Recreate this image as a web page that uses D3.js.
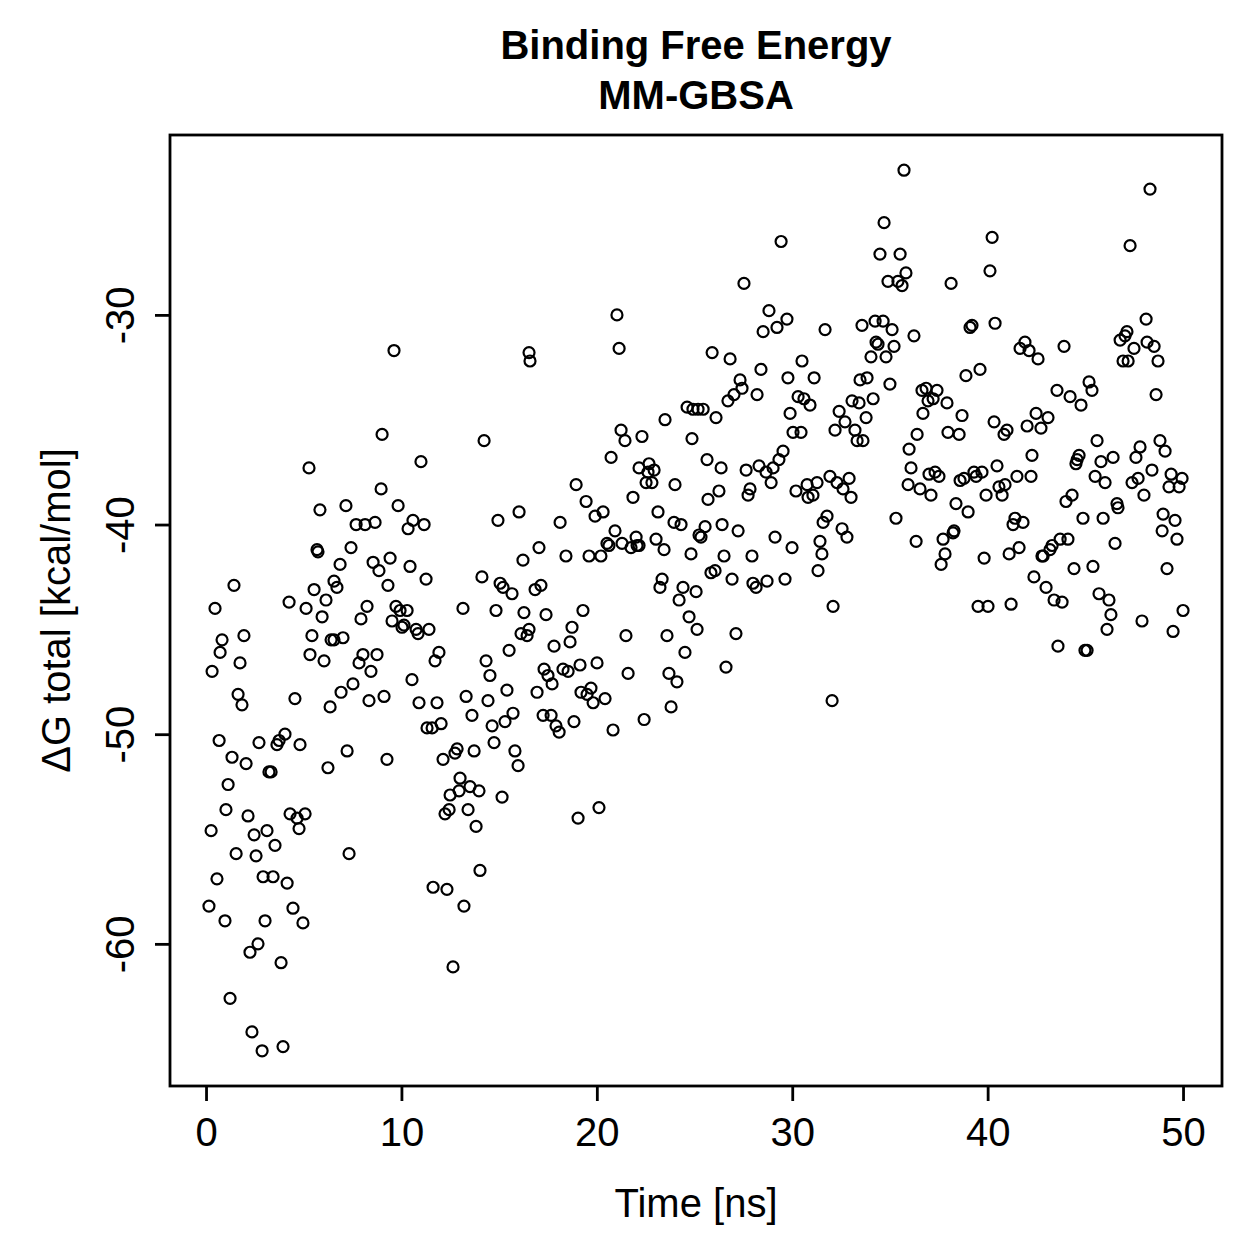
<!DOCTYPE html>
<html>
<head>
<meta charset="utf-8">
<script src="https://cdn.jsdelivr.net/npm/d3@7"></script>
<style>
  html, body { margin: 0; padding: 0; background: #fff; }
  svg text { font-family: "Liberation Sans", Arial, Helvetica, sans-serif; fill: #000; }
</style>
</head>
<body>
<div id="chart"></div>
<script>
// Binding free energy (MM-GBSA) over simulation time — scatter, R base-graphics look.

const TITLE = ["Binding Free Energy", "MM-GBSA"];
const X_LABEL = "Time [ns]";
const Y_LABEL = "\u0394G total [kcal/mol]";
const X_TICKS = [0, 10, 20, 30, 40, 50];
const Y_TICKS = [-30, -40, -50, -60];

// time (ns) of each snapshot
const times = [
  0.15,0.26,0.31,0.46,0.56,0.67,0.72,0.82,0.97,1.02,1.13,1.23,1.33,1.43,1.54,1.64,1.74,1.84,1.94,2.05,
  2.15,2.25,2.35,2.46,2.56,2.66,2.71,2.87,2.92,3.02,3.12,3.22,3.33,3.43,3.53,3.63,3.74,3.84,3.94,4.04,
  4.15,4.25,4.30,4.45,4.55,4.66,4.76,4.81,4.96,5.07,5.12,5.27,5.32,5.42,5.53,5.68,5.73,5.83,5.94,6.04,
  6.14,6.24,6.35,6.40,6.55,6.55,6.70,6.86,6.91,7.01,7.16,7.22,7.32,7.42,7.52,7.68,
  7.83,7.93,8.03,8.14,8.24,8.34,8.44,8.55,8.65,8.75,8.85,8.96,9.01,9.11,9.26,9.31,9.42,9.52,9.62,9.72,
  9.83,9.93,10.03,10.13,10.29,10.34,10.44,10.54,10.59,10.75,10.85,10.90,11.00,11.16,11.26,11.31,11.41,11.57,11.62,11.72,
  11.82,11.92,12.03,12.13,12.23,12.33,12.44,12.49,12.64,12.74,12.85,12.95,13.00,13.15,13.20,13.31,13.41,13.51,13.61,13.72,
  13.82,13.97,14.02,14.12,14.23,14.33,14.43,14.53,14.64,14.74,14.84,14.94,15.05,15.15,15.20,15.30,15.40,15.51,15.66,15.71,
  15.81,15.97,16.02,16.12,16.22,16.27,16.43,16.53,16.53,16.58,
  16.84,16.94,17.04,17.14,17.25,17.30,17.40,17.50,17.66,17.71,17.81,17.91,18.07,18.12,18.27,18.42,18.53,18.63,18.73,18.83,
  18.94,19.04,19.14,19.19,19.29,19.45,19.50,19.60,19.70,19.81,19.91,20.01,20.11,20.21,20.32,20.42,20.52,20.62,20.73,20.83,
  20.93,21.03,21.14,21.24,21.29,21.44,21.49,21.60,21.75,21.85,22.01,22.06,22.16,22.16,22.31,22.42,22.52,22.62,22.67,22.82,
  22.93,23.03,23.13,23.23,23.34,23.44,23.49,23.59,23.69,23.80,23.95,24.00,24.10,24.21,24.31,24.41,24.51,24.62,24.72,24.82,
  24.87,24.92,25.08,25.13,25.18,25.23,
  25.33,25.44,25.54,25.64,25.69,25.84,25.90,26.05,26.10,26.25,26.36,26.41,26.51,26.61,26.71,26.82,26.92,27.02,27.12,27.23,
  27.33,27.43,27.53,27.64,27.74,27.84,27.94,27.99,28.15,28.20,28.30,28.40,28.51,28.66,28.71,28.81,28.92,29.02,29.12,29.22,
  29.32,29.43,29.53,29.63,29.73,29.78,29.89,29.99,30.04,30.19,30.30,30.45,30.50,30.60,30.76,30.81,30.91,31.06,31.12,31.27,
  31.32,31.42,31.52,31.58,31.68,31.78,31.93,32.04,32.09,32.19,32.29,32.40,32.55,32.60,32.70,32.80,32.91,33.01,33.06,33.21,
  33.32,33.42,33.47,33.57,33.62,33.78,33.83,
  34.03,34.14,34.24,34.29,34.39,34.49,34.65,34.70,34.80,34.90,35.00,35.11,35.21,35.31,35.41,35.52,35.62,35.72,35.82,35.93,
  35.98,36.08,36.23,36.34,36.39,36.54,36.64,36.69,36.85,36.95,37.00,37.10,37.21,37.31,37.41,37.51,37.62,37.72,37.82,37.92,
  37.97,38.13,38.23,38.28,38.38,38.54,38.59,38.69,38.79,38.89,39.00,39.10,39.20,39.30,39.41,39.51,39.61,39.71,39.82,39.92,
  40.02,40.12,40.23,40.33,40.38,40.48,40.58,40.74,40.84,40.89,40.99,41.10,41.20,41.30,41.40,41.50,41.61,41.66,41.81,41.91,
  42.02,42.12,42.22,42.27,42.37,42.48,42.58,
  42.73,42.78,42.84,42.99,43.09,43.19,43.30,43.40,43.55,43.60,43.71,43.81,43.91,44.01,44.11,44.22,44.32,44.42,44.52,44.58,
  44.68,44.78,44.88,44.98,45.09,45.19,45.34,45.39,45.50,45.60,45.70,45.80,45.91,46.01,46.11,46.21,46.31,46.42,46.52,46.62,
  46.67,46.78,46.93,47.03,47.13,47.19,47.29,47.39,47.49,47.59,47.70,47.80,47.90,48.00,48.11,48.16,48.31,48.41,48.52,48.62,
  48.72,48.82,48.93,48.98,49.08,49.18,49.28,49.39,49.49,49.59,49.69,49.80,49.95,50.00
];

// ΔG total (kcal/mol) for the same snapshots
const dG = [
  -58.2,-54.6,-47.0,-44.0,-56.9,-50.3,-46.1,-45.5,-58.9,-53.6,-52.4,-62.6,-51.1,-42.9,-55.7,-48.1,-46.6,-48.6,-45.3,-51.4,
  -53.9,-60.4,-64.2,-54.8,-55.8,-60.0,-50.4,-65.1,-56.8,-58.9,-54.6,-51.8,-51.8,-56.8,-55.3,-50.5,-50.3,-60.9,-64.9,-50.0,
  -57.1,-43.7,-53.8,-58.3,-48.3,-54.0,-54.5,-50.5,-59.0,-53.8,-44.0,-37.3,-46.2,-45.3,-43.1,-41.2,-41.3,-39.3,-44.4,-46.5,
  -43.6,-51.6,-48.7,-45.5,-45.5,-42.7,-43.0,-41.9,-48.0,-45.4,-39.1,-50.8,-55.7,-41.1,-47.6,-40.0,
  -46.6,-44.5,-46.2,-40.0,-43.9,-48.4,-47.0,-41.8,-39.9,-46.2,-42.2,-38.3,-35.7,-48.2,-51.2,-42.9,-41.6,-44.6,-31.7,-43.9,
  -39.1,-44.1,-44.9,-44.8,-44.1,-40.2,-42.0,-47.4,-39.8,-45.0,-45.2,-48.5,-37.0,-40.0,-42.6,-49.7,-45.0,-49.7,-57.3,-46.5,
  -48.5,-46.1,-49.5,-51.2,-53.8,-57.4,-53.6,-52.9,-61.1,-50.9,-50.7,-52.7,-52.1,-44.0,-58.2,-48.2,-53.6,-52.5,-49.1,-50.8,
  -54.4,-52.7,-56.5,-42.5,-36.0,-46.5,-48.4,-47.2,-49.6,-50.4,-44.1,-39.8,-42.8,-53.0,-43.0,-49.4,-47.9,-46.0,-43.3,-49.0,
  -50.8,-51.5,-39.4,-45.2,-41.7,-44.2,-45.3,-31.8,-45.0,-32.2,
  -43.1,-48.0,-41.1,-42.9,-49.1,-46.9,-44.3,-47.2,-49.1,-47.6,-45.8,-49.6,-49.9,-39.9,-46.9,-41.5,-47.0,-45.6,-44.9,-49.4,
  -38.1,-54.0,-46.7,-48.0,-44.1,-38.9,-48.1,-41.5,-47.8,-48.5,-39.6,-46.6,-53.5,-41.5,-39.4,-48.3,-40.9,-41.0,-36.8,-49.8,
  -40.3,-30.0,-31.6,-35.5,-40.9,-36.0,-45.3,-47.1,-41.1,-38.7,-40.6,-41.0,-41.0,-37.3,-35.8,-49.3,-38.0,-37.5,-37.1,-38.0,
  -37.4,-40.7,-39.4,-43.0,-42.6,-41.2,-35.0,-45.3,-47.1,-48.7,-39.9,-38.1,-47.5,-43.6,-40.0,-43.0,-46.1,-34.4,-44.4,-41.4,
  -35.9,-34.5,-43.2,-45.0,-34.5,-40.5,
  -40.6,-34.5,-40.1,-36.9,-38.8,-42.3,-31.8,-42.2,-34.9,-38.4,-37.3,-40.0,-41.5,-46.8,-34.1,-32.1,-42.6,-33.8,-45.2,-40.3,
  -33.1,-33.5,-28.5,-37.4,-38.6,-38.3,-41.5,-42.8,-43.0,-33.8,-37.2,-32.6,-30.8,-37.5,-42.7,-29.8,-38.0,-37.3,-40.6,-30.6,
  -36.9,-26.5,-36.5,-42.6,-30.2,-33.0,-34.7,-41.1,-35.6,-38.4,-33.9,-35.6,-32.2,-34.0,-38.1,-38.7,-34.3,-38.6,-33.0,-38.0,
  -42.2,-40.8,-41.4,-39.9,-30.7,-39.6,-37.7,-48.4,-43.9,-35.5,-38.0,-34.6,-40.2,-38.3,-35.1,-40.6,-37.8,-38.7,-34.1,-35.5,
  -36.0,-34.2,-33.1,-30.5,-36.0,-34.9,-33.0,
  -32.0,-34.0,-30.3,-31.3,-31.4,-27.1,-30.3,-25.6,-32.0,-28.4,-33.3,-30.7,-31.5,-39.7,-28.4,-27.1,-28.6,-23.1,-28.0,-38.1,
  -36.4,-37.3,-31.0,-40.8,-35.7,-38.3,-33.6,-34.7,-33.5,-34.1,-37.6,-38.6,-34.0,-37.5,-33.6,-37.7,-41.9,-40.7,-41.4,-34.2,
  -35.6,-28.5,-40.4,-40.3,-39.0,-35.7,-37.9,-34.8,-37.8,-32.9,-39.4,-30.6,-30.5,-37.5,-37.7,-43.9,-32.6,-37.5,-41.6,-38.6,
  -43.9,-27.9,-26.3,-35.1,-30.4,-37.2,-38.2,-38.6,-35.7,-38.1,-35.5,-41.4,-43.8,-40.0,-39.7,-37.7,-41.1,-31.6,-39.9,-31.3,
  -35.3,-31.7,-37.7,-36.7,-42.5,-34.7,-32.1,
  -35.4,-41.5,-41.5,-43.0,-34.9,-41.2,-41.0,-43.6,-33.6,-45.8,-40.7,-43.7,-31.5,-38.9,-40.7,-33.9,-38.6,-42.1,-37.1,-36.9,
  -36.7,-34.3,-39.7,-46.0,-46.0,-33.2,-33.6,-42.0,-37.7,-36.0,-43.3,-37.0,-39.7,-38.0,-45.0,-43.6,-44.3,-36.8,-40.9,-39.0,
  -39.2,-31.2,-32.2,-31.0,-30.8,-32.2,-26.7,-38.0,-31.6,-36.8,-37.8,-36.3,-44.6,-38.6,-30.2,-31.3,-24.0,-37.4,-31.5,-33.8,
  -32.2,-36.0,-40.3,-39.5,-36.5,-42.1,-38.2,-37.6,-45.1,-39.8,-40.7,-38.2,-37.8,-44.1
];

const W = 1259, H = 1259;
const margin = { top: 135, right: 37, bottom: 173, left: 170 };
const FS = 40;

const points = times.map((t, i) => ({ t, g: dG[i] }));

// R-style 4% padding on the data range
function padded(ext) {
  const p = (ext[1] - ext[0]) * 0.04;
  return [ext[0] - p, ext[1] + p];
}

const x = d3.scaleLinear()
  .domain(padded(d3.extent(times)))
  .range([margin.left, W - margin.right]);
const y = d3.scaleLinear()
  .domain(padded(d3.extent(dG)))
  .range([H - margin.bottom, margin.top]);

const svg = d3.select("#chart").append("svg")
  .attr("width", W).attr("height", H)
  .attr("viewBox", `0 0 ${W} ${H}`);

svg.append("rect").attr("width", W).attr("height", H).attr("fill", "#fff");

// points (open circles, pch = 1)
svg.append("g")
  .selectAll("circle")
  .data(points)
  .join("circle")
    .attr("cx", d => x(d.t))
    .attr("cy", d => y(d.g))
    .attr("r", 5.5)
    .attr("fill", "none")
    .attr("stroke", "#000")
    .attr("stroke-width", 2.2);

// box
svg.append("rect")
  .attr("x", margin.left).attr("y", margin.top)
  .attr("width", W - margin.left - margin.right)
  .attr("height", H - margin.top - margin.bottom)
  .attr("fill", "none").attr("stroke", "#000").attr("stroke-width", 2.8);

// x axis
const gX = svg.append("g")
  .attr("transform", `translate(0,${H - margin.bottom})`)
  .call(d3.axisBottom(x).tickValues(X_TICKS).tickSize(15).tickSizeOuter(0).tickPadding(17));
gX.select(".domain").remove();
gX.selectAll(".tick line").attr("stroke", "#000").attr("stroke-width", 2.8);
gX.selectAll(".tick text").attr("font-size", FS).attr("fill", "#000")
  .attr("font-family", "Liberation Sans, Arial, Helvetica, sans-serif");

// y axis, labels rotated like R's default las = 0
const gY = svg.append("g")
  .attr("transform", `translate(${margin.left},0)`)
  .call(d3.axisLeft(y).tickValues(Y_TICKS).tickSize(15).tickSizeOuter(0).tickFormat(d => "-" + Math.abs(d)));
gY.select(".domain").remove();
gY.selectAll(".tick line").attr("stroke", "#000").attr("stroke-width", 2.8);
gY.selectAll(".tick text")
  .attr("font-size", FS).attr("fill", "#000")
  .attr("font-family", "Liberation Sans, Arial, Helvetica, sans-serif")
  .attr("x", null).attr("dy", null)
  .attr("text-anchor", "middle")
  .attr("transform", "translate(-36,0) rotate(-90)");

// axis titles
svg.append("text")
  .attr("x", (margin.left + W - margin.right) / 2)
  .attr("y", 1217)
  .attr("text-anchor", "middle")
  .attr("font-size", FS)
  .text(X_LABEL);

svg.append("text")
  .attr("transform", `translate(70,${(margin.top + H - margin.bottom) / 2}) rotate(-90)`)
  .attr("text-anchor", "middle")
  .attr("font-size", FS)
  .text(Y_LABEL);

// title, two bold lines
svg.append("g").selectAll("text")
  .data(TITLE)
  .join("text")
    .attr("x", (margin.left + W - margin.right) / 2)
    .attr("y", (d, i) => 59 + i * 50)
    .attr("text-anchor", "middle")
    .attr("font-size", FS)
    .attr("font-weight", "bold")
    .text(d => d);
</script>
</body>
</html>
